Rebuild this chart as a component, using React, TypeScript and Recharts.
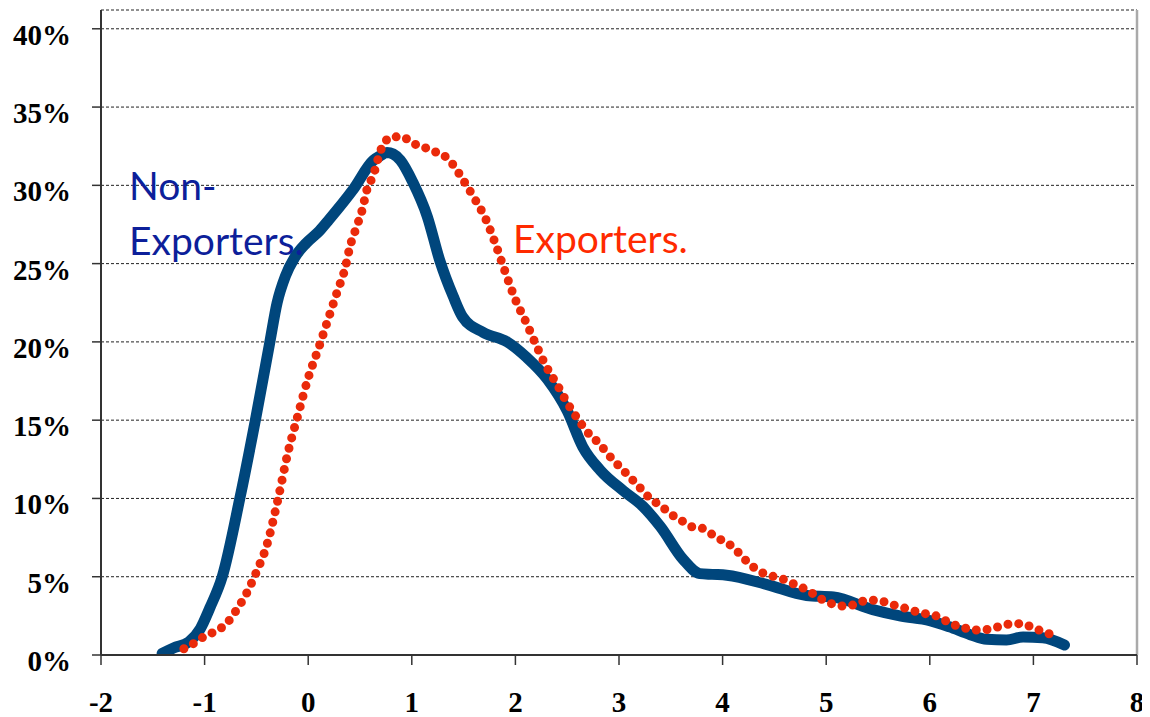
import React from "react";
import { LineChart, Line, XAxis, YAxis, CartesianGrid, ReferenceLine } from "recharts";

const xTicks = [-2, -1, 0, 1, 2, 3, 4, 5, 6, 7, 8];
const yTicks = [0, 5, 10, 15, 20, 25, 30, 35, 40];

const nonExpX = [-1.41, -1.3, -1.15, -1.04, -0.95, -0.83, -0.66, -0.51, -0.37, -0.3, -0.22, -0.13, -0.02, 0.11, 0.2, 0.43, 0.63, 0.7, 0.76, 0.82, 0.89, 1.01, 1.15, 1.27, 1.4, 1.49, 1.69, 1.92, 2.11, 2.31, 2.5, 2.65, 2.82, 3.04, 3.23, 3.4, 3.62, 3.78, 3.9, 4.04, 4.43, 4.81, 5.07, 5.45, 5.71, 6.0, 6.19, 6.39, 6.55, 6.74, 6.9, 7.09, 7.3];
const nonExpY = [0.1, 0.45, 0.85, 1.7, 3.0, 5.0, 10.0, 15.0, 20.0, 22.5, 24.2, 25.4, 26.3, 27.1, 27.8, 29.7, 31.6, 31.9, 32.1, 32.0, 31.6, 30.2, 28.0, 25.2, 22.9, 21.6, 20.6, 20.0, 19.0, 17.6, 15.6, 13.3, 11.8, 10.5, 9.5, 8.2, 6.1, 5.2, 5.15, 5.1, 4.5, 3.8, 3.7, 2.9, 2.5, 2.2, 1.8, 1.3, 1.0, 0.96, 1.15, 1.1, 0.64];

const expX = [-1.2, -1.09, -1.0, -0.9, -0.79, -0.69, -0.59, -0.5, -0.4, -0.29, -0.2, -0.1, 0.0, 0.1, 0.18, 0.28, 0.36, 0.4, 0.47, 0.52, 0.57, 0.62, 0.71, 0.81, 0.91, 1.0, 1.1, 1.19, 1.29, 1.4, 1.49, 1.61, 1.71, 1.8, 1.9, 2.0, 2.1, 2.2, 2.3, 2.4, 2.51, 2.6, 2.7, 2.81, 2.91, 3.01, 3.1, 3.2, 3.3, 3.41, 3.5, 3.6, 3.7, 3.8, 3.9, 4.0, 4.1, 4.2, 4.3, 4.4, 4.5, 4.6, 4.7, 4.8, 4.9, 5.0, 5.1, 5.2, 5.3, 5.4, 5.5, 5.6, 5.7, 5.81, 5.9, 6.0, 6.1, 6.2, 6.31, 6.41, 6.5, 6.61, 6.71, 6.8, 6.9, 7.0, 7.1, 7.2];
const expY = [0.4, 0.8, 1.2, 1.5, 2.0, 2.9, 4.0, 5.3, 7.0, 10.0, 12.8, 15.3, 17.7, 19.6, 21.2, 23.2, 24.8, 26.0, 27.4, 28.4, 29.8, 30.5, 32.4, 33.1, 33.1, 32.7, 32.5, 32.2, 32.0, 31.3, 30.4, 29.1, 27.9, 26.4, 24.5, 22.7, 21.3, 19.8, 18.4, 17.3, 16.0, 15.1, 14.2, 13.5, 12.7, 12.0, 11.4, 10.7, 10.0, 9.5, 9.0, 8.6, 8.2, 8.1, 7.7, 7.3, 6.9, 6.2, 5.6, 5.2, 5.0, 4.8, 4.5, 4.2, 3.8, 3.4, 3.2, 3.1, 3.3, 3.5, 3.5, 3.3, 3.1, 2.9, 2.7, 2.6, 2.4, 2.0, 1.8, 1.6, 1.6, 1.7, 1.9, 2.0, 2.0, 1.7, 1.5, 1.2];

const nonExpData = nonExpX.map((x, i) => ({ x, y: nonExpY[i] }));
const expData = expX.map((x, i) => ({ x, y: expY[i] }));

const tickFont = { fontFamily: "'Liberation Serif', 'Times New Roman', serif", fontWeight: 700, fontSize: 29, fill: "#000" };

const YTick = (props: any) => {
  const { x, y, payload } = props;
  return (
    <text x={x} y={y + 16} textAnchor="end" {...tickFont}>
      {`${payload.value}%`}
    </text>
  );
};

const XTick = (props: any) => {
  const { x, y, payload } = props;
  return (
    <text x={x} y={y + 47} textAnchor="middle" {...tickFont}>
      {`${payload.value}`}
    </text>
  );
};

export default function App() {
  return (
    <div style={{ position: "relative", width: 1142, height: 709 }}>
      <LineChart width={1142} height={709} margin={{ top: 2, right: 13, bottom: 0, left: 0 }}>
        <CartesianGrid horizontal vertical={false} stroke="#222" strokeDasharray="3 2" strokeWidth={1} />
        <XAxis
          type="number"
          dataKey="x"
          domain={[-2, 8]}
          ticks={xTicks}
          allowDataOverflow
          height={62}
          tickSize={10}
          tickMargin={0}
          tick={<XTick />}
          axisLine={{ stroke: "#333", strokeWidth: 2 }}
          tickLine={{ stroke: "#333", strokeWidth: 1.5 }}
        />
        <YAxis
          type="number"
          dataKey="y"
          domain={[0, 41.2]}
          ticks={yTicks}
          allowDataOverflow
          width={93}
          tickSize={9}
          tickMargin={21}
          tick={<YTick />}
          axisLine={{ stroke: "#333", strokeWidth: 2 }}
          tickLine={{ stroke: "#333", strokeWidth: 1.5 }}
        />
        <ReferenceLine x={8} stroke="#aaa" strokeWidth={2.5} />
        <Line
          data={nonExpData}
          dataKey="y"
          type="monotone"
          stroke="#00467c"
          strokeWidth={11}
          strokeLinejoin="round"
          strokeLinecap="round"
          dot={false}
          activeDot={false}
          isAnimationActive={false}
        />
        <Line
          data={expData}
          dataKey="y"
          type="monotone"
          stroke="#ea2a0a"
          strokeWidth={9}
          strokeDasharray="0 10.8"
          strokeLinecap="round"
          dot={false}
          activeDot={false}
          isAnimationActive={false}
        />
      </LineChart>
      <svg width={1142} height={709} style={{ position: "absolute", left: 0, top: 0, pointerEvents: "none" }}>
        <g fontFamily="Lato, 'Open Sans', sans-serif" fontSize={39}>
          <text x={121} y={192} fill="#0d1f9a">Non-</text>
          <text x={121} y={247} fill="#0d1f9a">Exporters.</text>
          <text x={505} y={245} fill="#ff2a00">Exporters.</text>
        </g>
      </svg>
    </div>
  );
}
